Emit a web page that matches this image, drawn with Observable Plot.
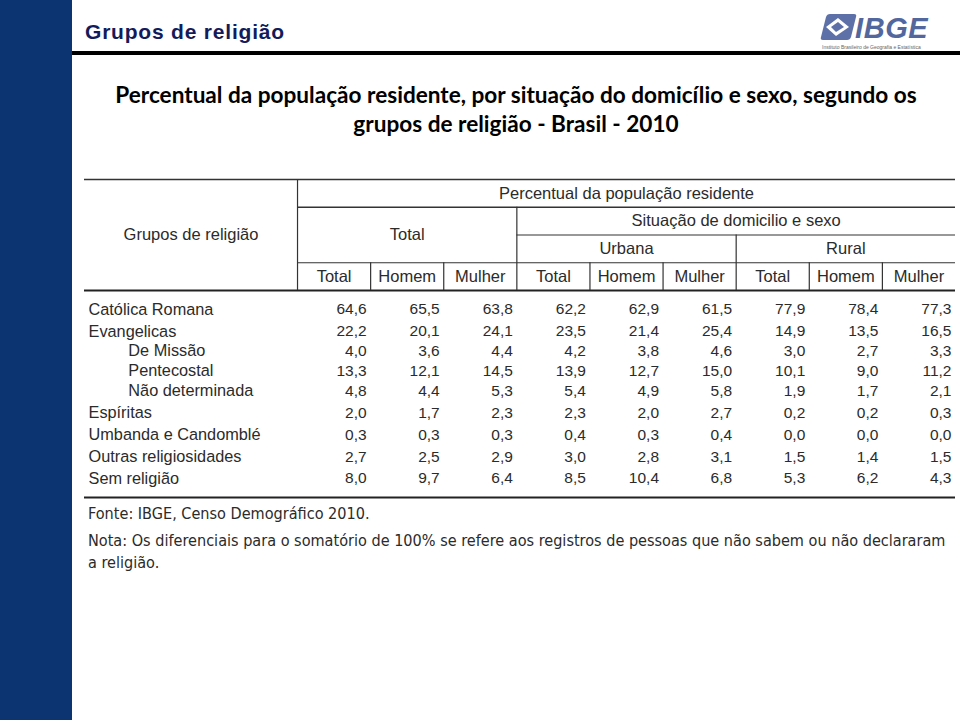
<!DOCTYPE html>
<html lang="pt-BR">
<head>
<meta charset="utf-8">
<script src="https://cdn.jsdelivr.net/npm/d3@7"></script>
<script src="https://cdn.jsdelivr.net/npm/@observablehq/plot@0.6"></script>
<style>
  html, body { margin: 0; padding: 0; background: #fff; }
  #page { position: relative; width: 960px; height: 720px; overflow: hidden; background: #fff; }
  #chart { position: absolute; left: 0; top: 0; }
  #bar { position: absolute; left: 0; top: 0; width: 72px; height: 720px; background: #0b3470; }
  #title { position: absolute; left: 85px; top: 20px; font: bold 21px "Liberation Sans", Arial, sans-serif; letter-spacing: 0.8px; color: #121c5c; white-space: nowrap; }
  #rule { position: absolute; left: 72px; top: 51px; width: 888px; height: 4px; background: #000; }
  #logo { position: absolute; left: 818px; top: 6px; }
  #subtitle { position: absolute; left: 72px; top: 80px; width: 888px; text-align: center; font: bold 22.6px Lato, "Open Sans", sans-serif; line-height: 29px; color: #000; white-space: nowrap; }
  .foot { position: absolute; left: 88px; white-space: nowrap; font-family: "Liberation Sans Narrow", "DejaVu Sans Condensed", "Liberation Sans", sans-serif; font-stretch: condensed; font-size: 16.1px; line-height: 20px; color: #2b2b2b; }
</style>
</head>
<body>
<div id="page">
  <div id="chart"></div>
  <div id="bar"></div>
  <div id="title">Grupos de religião</div>
  <div id="rule"></div>
  <svg id="logo" width="126" height="38" viewBox="0 0 126 38">
    <path d="M8 11 Q9 8 12 8 L36 8 Q39 8 38 11 L33 31 Q32 34 29 34 L5 34 Q2 34 3 31 Z" fill="#5d71a8"/>
    <path d="M20 12 L31 21 L18 30 L8 21 Z" fill="#fff"/>
    <path d="M20 16 L26 21 L18 26 L13 21 Z" fill="#5d71a8"/>
    <text x="37" y="32" font-family="Liberation Sans, Arial, sans-serif" font-weight="bold" font-style="italic" font-size="29" fill="#53679f" letter-spacing="0.6">IBGE</text>
  </svg>
  <svg id="logo2" width="126" height="8" viewBox="0 0 126 8" style="position:absolute;left:818px;top:43px">
    <text x="4" y="6" font-family="Liberation Sans, Arial, sans-serif" font-size="5" fill="#666">Instituto Brasileiro de Geografia e Estatística</text>
  </svg>
  <div id="subtitle">Percentual da população residente, por situação do domicílio e sexo, segundo os<br>grupos de religião - Brasil - 2010</div>
  <div class="foot" style="top:504px">Fonte: IBGE, Censo Demográfico 2010.</div>
  <div class="foot" style="top:531px">Nota: Os diferenciais para o somatório de 100% se refere aos registros de pessoas que não sabem ou não declararam</div>
  <div class="foot" style="top:553px">a religião.</div>
</div>
<script>
// ---- data ----
const grupos = ["Católica Romana", "Evangelicas", "De Missão", "Pentecostal", "Não determinada", "Espíritas", "Umbanda e Candomblé", "Outras religiosidades", "Sem religião"];
const nivel = [0, 0, 1, 1, 1, 0, 0, 0, 0];
const sexos = ["Total", "Homem", "Mulher"];
const situacoes = ["Urbana", "Rural"];
const totalTotal   = [64.6, 22.2, 4.0, 13.3, 4.8, 2.0, 0.3, 2.7, 8.0];
const totalHomem   = [65.5, 20.1, 3.6, 12.1, 4.4, 1.7, 0.3, 2.5, 9.7];
const totalMulher  = [63.8, 24.1, 4.4, 14.5, 5.3, 2.3, 0.3, 2.9, 6.4];
const urbanaTotal  = [62.2, 23.5, 4.2, 13.9, 5.4, 2.3, 0.4, 3.0, 8.5];
const urbanaHomem  = [62.9, 21.4, 3.8, 12.7, 4.9, 2.0, 0.3, 2.8, 10.4];
const urbanaMulher = [61.5, 25.4, 4.6, 15.0, 5.8, 2.7, 0.4, 3.1, 6.8];
const ruralTotal   = [77.9, 14.9, 3.0, 10.1, 1.9, 0.2, 0.0, 1.5, 5.3];
const ruralHomem   = [78.4, 13.5, 2.7, 9.0, 1.7, 0.2, 0.0, 1.4, 6.2];
const ruralMulher  = [77.3, 16.5, 3.3, 11.2, 2.1, 0.3, 0.0, 1.5, 4.3];
const series = [totalTotal, totalHomem, totalMulher, urbanaTotal, urbanaHomem, urbanaMulher, ruralTotal, ruralHomem, ruralMulher];

// ---- layout (in column units / row units) ----
const fmt = v => v.toFixed(1).replace(".", ",");
const L = 213 / 73.1;               // width of the label column, in data-column units
const W = L + series.length;
const H = [0, 27.75, 55.5, 83.25, 111]; // header band edges
const firstRow = 130, lastRow = 299, bottom = 318;
const gapW = nivel.slice(1).map(l => l ? 0.9 : 1);
const unit = (lastRow - firstRow) / d3.sum(gapW);
const rowY = [firstRow];
gapW.forEach((g, i) => rowY.push(rowY[i] + g * unit));

const cells = [];
grupos.forEach((g, i) => series.forEach((s, j) => cells.push({x: L + j + 1 - 0.055, y: rowY[i], t: fmt(s[i])})));
const labels = grupos.map((g, i) => ({x: nivel[i] ? 0.6 : 0.055, y: rowY[i], t: g}));

const headers = [
  {x: L / 2, y: (H[0] + H[4]) / 2, t: "Grupos de religião"},
  {x: L + series.length / 2, y: (H[0] + H[1]) / 2, t: "Percentual da população residente"},
  {x: L + 1.5, y: (H[1] + H[3]) / 2, t: "Total"},
  {x: L + 6, y: (H[1] + H[2]) / 2, t: "Situação de domicilio e sexo"},
  ...situacoes.map((s, k) => ({x: L + 3 + 3 * k + 1.5, y: (H[2] + H[3]) / 2, t: s})),
  ...d3.range(series.length).map(j => ({x: L + j + 0.5, y: (H[3] + H[4]) / 2, t: sexos[j % 3]}))
];

const hThin = [
  {y: H[2], x1: L + 3, x2: W},
  {y: H[3], x1: L, x2: W}
];
const hMid = [
  {y: H[0], x1: 0, x2: W},
  {y: H[1], x1: L, x2: W}
];
const hThick = [
  {y: H[4], x1: 0, x2: W},
  {y: bottom, x1: 0, x2: W}
];
const vRules = [
  {x: L, y1: H[0], y2: H[4]},
  {x: L + 3, y1: H[1], y2: H[4]},
  {x: L + 6, y1: H[2], y2: H[4]},
  ...[1, 2, 4, 5, 7, 8].map(j => ({x: L + j, y1: H[3], y2: H[4]}))
];

const ink = "#2b2b2b";
const chart = Plot.plot({
  width: 960,
  height: 720,
  margin: 0,
  x: {domain: [0, W], range: [84, 955], axis: null},
  y: {domain: [0, bottom], range: [179, 497], axis: null},
  style: {fontFamily: "'Liberation Sans', Arial, sans-serif", background: "none"},
  marks: [
    Plot.ruleY(hThin, {y: "y", x1: "x1", x2: "x2", stroke: "#333", strokeWidth: 1.2}),
    Plot.ruleY(hMid, {y: "y", x1: "x1", x2: "x2", stroke: "#333", strokeWidth: 1.6}),
    Plot.ruleY(hThick, {y: "y", x1: "x1", x2: "x2", stroke: "#222", strokeWidth: 2}),
    Plot.ruleX(vRules, {x: "x", y1: "y1", y2: "y2", stroke: "#333", strokeWidth: 1.2}),
    Plot.text(headers, {x: "x", y: "y", text: "t", fontSize: 16.5, fill: ink}),
    Plot.text(labels, {x: "x", y: "y", text: "t", textAnchor: "start", fontSize: 16.3, fill: ink}),
    Plot.text(cells, {x: "x", y: "y", text: "t", textAnchor: "end", fontSize: 15.5, fill: ink})
  ]
});
document.getElementById("chart").appendChild(chart);
</script>
</body>
</html>
